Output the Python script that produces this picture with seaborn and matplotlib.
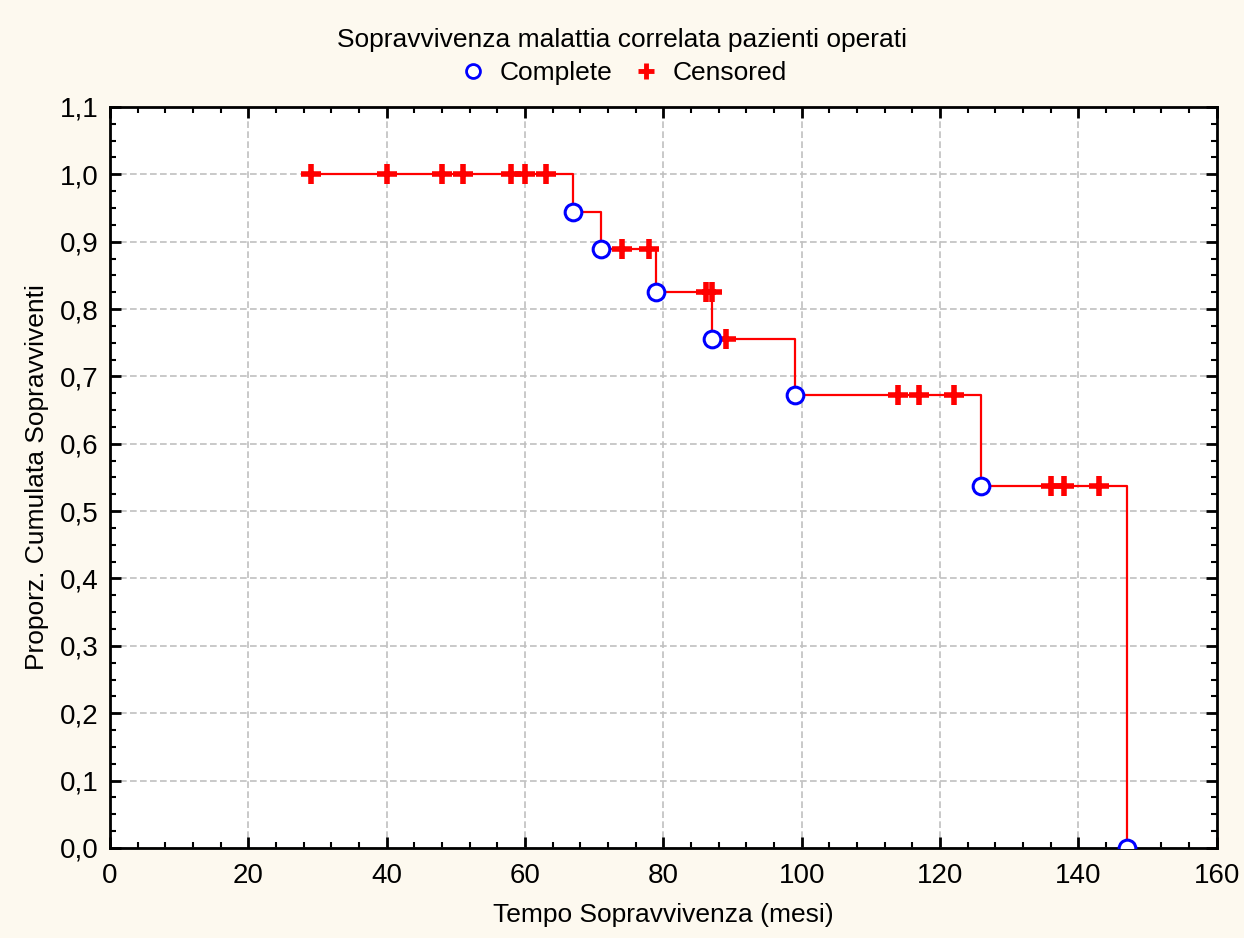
import numpy as np
import pandas as pd
import matplotlib
matplotlib.use("Agg")
import matplotlib.pyplot as plt
import seaborn as sns
from matplotlib.ticker import MultipleLocator, FuncFormatter
from matplotlib.lines import Line2D

# Data
step_times = [29, 67, 71, 79, 87, 99, 126, 147]
step_surv = [1.0, 0.944, 0.889, 0.825, 0.756, 0.672, 0.538, 0.0]

complete_times = [67, 71, 79, 87, 99, 126, 147]
complete_surv = [0.944, 0.889, 0.825, 0.756, 0.672, 0.538, 0.0]

censored_times = [29, 40, 48, 51, 58, 60, 63, 74, 78, 86.2, 87, 89, 114, 117, 122, 136, 138, 143]
censored_surv = [1.0, 1.0, 1.0, 1.0, 1.0, 1.0, 1.0, 0.889, 0.889, 0.825, 0.825, 0.756,
                 0.672, 0.672, 0.672, 0.538, 0.538, 0.538]

title = "Sopravvivenza malattia correlata pazienti operati"
xlabel = "Tempo Sopravvivenza (mesi)"
ylabel = "Proporz. Cumulata Sopravviventi"

sns.set_style("ticks")
plt.rcParams['font.family'] = ['Liberation Sans', 'DejaVu Sans']
plt.rcParams['text.color'] = 'black'
plt.rcParams['axes.labelcolor'] = 'black'

bg = "#fdf9ef"
fig = plt.figure(figsize=(12.44, 9.38), dpi=100, facecolor=bg)
ax = fig.add_axes([0.0884, 0.096, 0.8896, 0.790])
ax.set_facecolor("white")

df_step = pd.DataFrame({"t": step_times, "s": step_surv})
df_comp = pd.DataFrame({"t": complete_times, "s": complete_surv})
df_cens = pd.DataFrame({"t": censored_times, "s": censored_surv})

sns.lineplot(data=df_step, x="t", y="s", ax=ax, color="red", lw=1.6,
             drawstyle="steps-post", estimator=None, sort=False, zorder=3)
ax.plot(df_cens["t"], df_cens["s"], linestyle="none", marker="+", ms=14, mew=4,
        color="red", zorder=4)
ax.plot(df_comp["t"], df_comp["s"], linestyle="none", marker="o", ms=12, mew=2.2,
        mfc="white", mec="blue", zorder=5, clip_on=True)

ax.set_xlim(0, 160)
ax.set_ylim(0, 1.1)
ax.xaxis.set_major_locator(MultipleLocator(20))
ax.xaxis.set_minor_locator(MultipleLocator(4))
ax.yaxis.set_major_locator(MultipleLocator(0.1))
ax.yaxis.set_minor_locator(MultipleLocator(0.025))
ax.yaxis.set_major_formatter(FuncFormatter(lambda v, p: f"{v:.1f}".replace(".", ",")))
ax.xaxis.set_major_formatter(FuncFormatter(lambda v, p: f"{v:.0f}"))

ax.tick_params(which="both", direction="in", top=True, right=True, colors="black",
               labelsize=20, labelcolor="black")
ax.tick_params(which="major", length=8, width=2)
ax.tick_params(which="minor", length=4, width=1.5)
ax.tick_params(axis="x", pad=11)
ax.tick_params(axis="y", pad=8)
for sp in ax.spines.values():
    sp.set_visible(True)
    sp.set_linewidth(2)
    sp.set_color("black")

ax.grid(True, which="major", color="#c0c0c0", linestyle=(0, (4, 2)), lw=1.2, zorder=0)
ax.set_axisbelow(True)

ax.set_xlabel(xlabel, fontsize=19, labelpad=10, color="black")
ax.set_ylabel(ylabel, fontsize=19, labelpad=8, color="black")

fig.text(0.5, 0.957, title, ha="center", va="center", fontsize=19, color="black")
handles = [
    Line2D([], [], linestyle="none", marker="o", ms=10, mew=2, mfc="white", mec="blue"),
    Line2D([], [], linestyle="none", marker="+", ms=12, mew=3.5, color="red"),
]
fig.legend(handles, ["Complete", "Censored"], loc="center", bbox_to_anchor=(0.5, 0.922),
           ncol=2, frameon=False, fontsize=19, handletextpad=0.4, columnspacing=0.7,
           handlelength=1.2, labelcolor="black")

fig.savefig("out.png", dpi=100, facecolor=bg)
